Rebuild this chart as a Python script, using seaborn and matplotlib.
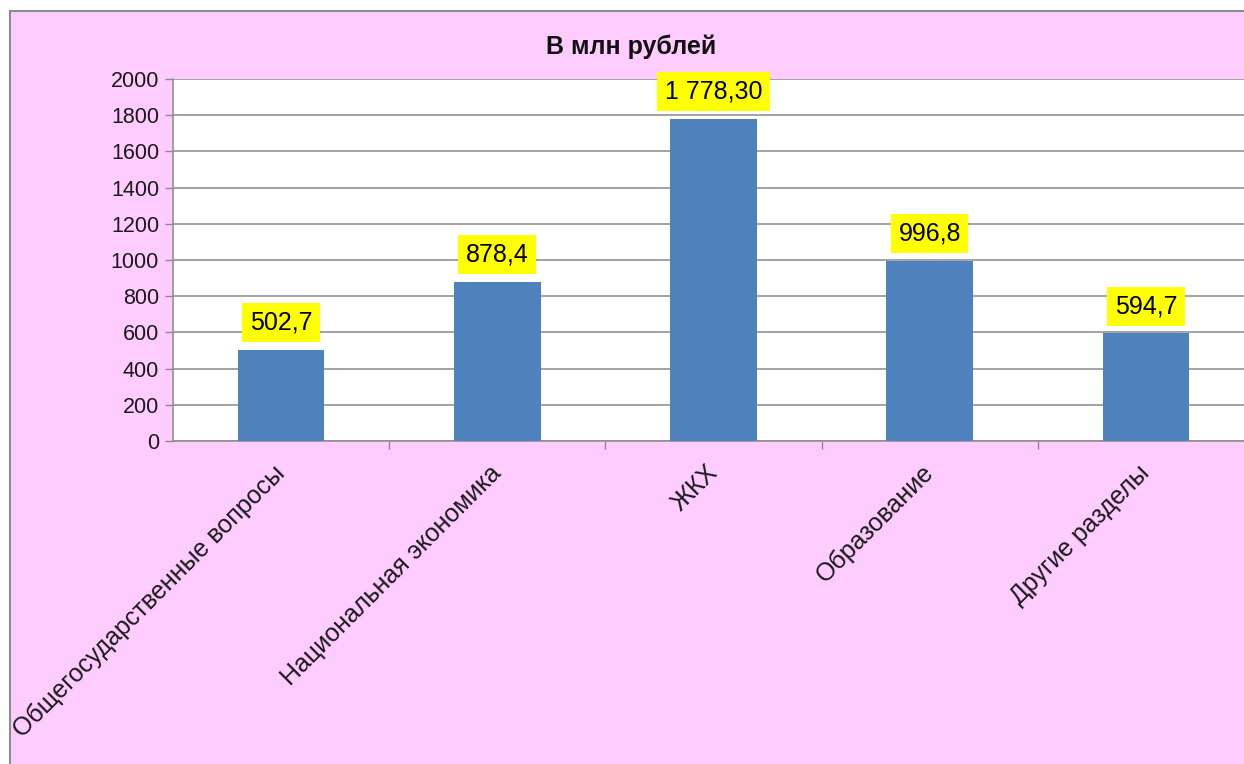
import matplotlib
matplotlib.use("Agg")
import matplotlib.pyplot as plt
from matplotlib.patches import Rectangle
from matplotlib.ticker import FixedLocator
import seaborn as sns
import pandas as pd

categories = ["Общегосударственные вопросы", "Национальная экономика", "ЖКХ",
              "Образование", "Другие разделы"]
values = [502.7, 878.4, 1778.3, 996.8, 594.7]
value_labels = ["502,7", "878,4", "1 778,30", "996,8", "594,7"]
yticks = [0, 200, 400, 600, 800, 1000, 1200, 1400, 1600, 1800, 2000]
title = "В млн рублей"

df = pd.DataFrame({"section": categories, "amount": values})

sns.set_theme(style="white")
plt.rcParams["font.family"] = ["Liberation Sans", "DejaVu Sans"]

W, H = 1244, 764
fig = plt.figure(figsize=(W / 100, H / 100), dpi=100, facecolor="white")

# pink chart area with a grey frame, kept behind the axes
frame = Rectangle((10 / W, -0.05), 1.1, (H - 11) / H + 0.05, transform=fig.transFigure,
                  facecolor="#FFCCFF", edgecolor="#8C8C8C", linewidth=1.5, zorder=-10)
fig.patches.append(frame)

ax = fig.add_axes([173 / W, 1 - 441 / H, (1254 - 173) / W, (441 - 79) / H])
ax.set_facecolor("white")
ax.set_zorder(1)

sns.barplot(data=df, x="section", y="amount", color="#4F81BD", saturation=1,
            width=0.4, linewidth=0, ax=ax, zorder=3)

ax.set_ylim(0, 2000)
ax.set_xlim(-0.5, len(categories) - 0.5)
ax.set_yticks(yticks)
ax.set_yticklabels([str(t) for t in yticks], fontsize=15.5, color="#1a1a1a")
ax.yaxis.grid(True, color="#8A8A8A", linewidth=1.1, zorder=0)
ax.set_axisbelow(True)
ax.set_xlabel("")
ax.set_ylabel("")

ax.tick_params(axis="y", which="major", length=6, width=1, color="#8A8A8A",
               direction="out", left=True, pad=4)
ax.tick_params(axis="x", which="major", length=0, pad=6)
ax.xaxis.set_minor_locator(FixedLocator([i + 0.5 for i in range(len(categories) - 1)]))
ax.tick_params(axis="x", which="minor", length=6, width=1, color="#8A8A8A",
               direction="out", bottom=True)

ax.set_xticks(range(len(categories)))
ax.set_xticklabels(categories, rotation=45, ha="right", va="center",
                   rotation_mode="anchor", fontsize=18, color="#1a1a1a")
for lbl in ax.get_xticklabels():
    lbl.set_y(-0.055)

for side in ["top", "right"]:
    ax.spines[side].set_visible(False)
for side in ["left", "bottom"]:
    ax.spines[side].set_color("#8A8A8A")
    ax.spines[side].set_linewidth(1.1)

ax.bar_label(ax.containers[0], labels=value_labels, padding=11, fontsize=18,
             color="black",
             bbox=dict(boxstyle="square,pad=0.3", facecolor="#FFFF00", edgecolor="none"))

fig.text(631 / W, 1 - 47 / H, title, ha="center", va="center", fontsize=18,
         fontweight="bold", color="#111111")

fig.savefig("out.png", dpi=100, facecolor=fig.get_facecolor())
